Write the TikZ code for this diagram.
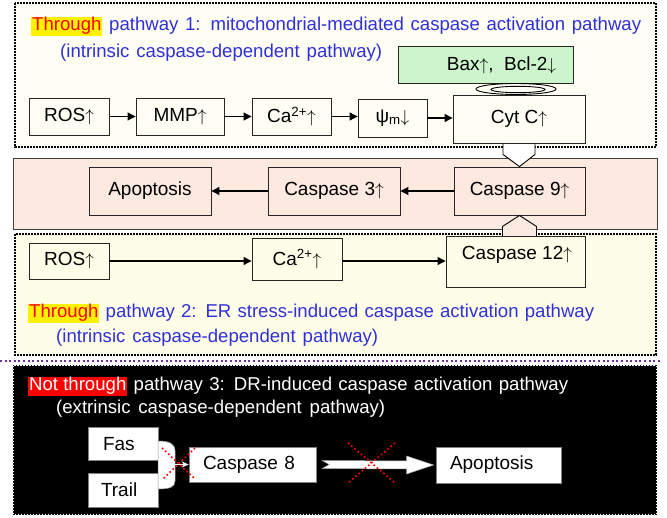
\documentclass[tikz,border=0pt]{standalone}
\usepackage{fontspec}
\setmainfont{Liberation Sans}
\usetikzlibrary{arrows.meta,calc}
\definecolor{ttlblue}{RGB}{48,48,215}
\definecolor{creamA}{RGB}{254,254,244}
\definecolor{creamB}{RGB}{254,254,232}
\definecolor{pinkbg}{RGB}{252,233,224}
\definecolor{greenbg}{RGB}{204,245,204}
\definecolor{purpdot}{RGB}{112,48,160}
\newcommand\hlY[1]{{\setlength{\fboxsep}{1pt}\colorbox{yellow}{\textcolor{red}{#1}}}}
\newcommand\hlR[1]{{\setlength{\fboxsep}{1pt}\colorbox{red}{\textcolor{white}{#1}}}}
\pgfdeclarelayer{bg}
\pgfdeclarelayer{mid}
\pgfsetlayers{bg,mid,main}
\begin{document}
\begin{tikzpicture}[x=1pt,y=-1pt,
  font=\fontsize{19}{22}\selectfont,
  bx/.style={draw=black!85, line width=0.9pt, inner sep=0pt, align=center},
  wbx/.style={fill=white, draw=black!50, line width=0.6pt, inner sep=0pt, text=black, align=left},
  arr/.style={line width=1.1pt, -{Triangle[length=8pt,width=8pt]}},
  dotbox/.style={line width=1.8pt, dash pattern=on 1.6pt off 1.4pt},
  redx/.style={red, line width=1.6pt, dash pattern=on 1.6pt off 2.6pt},
  ttl/.style={anchor=base west, inner sep=0pt, text=ttlblue, font=\fontsize{18.6}{22}\selectfont},
]
\useasboundingbox (0,0) rectangle (667,518);

% ---------- backgrounds ----------
\begin{pgfonlayer}{bg}
  \draw[dotbox, fill=creamA] (15,3) rectangle (656,147);
  \fill[pinkbg] (13,158) rectangle (657,229);
  \draw[draw=black!75, line width=0.9pt] (13,158) rectangle (657,229);
  \draw[dotbox, fill=creamB] (15,234) rectangle (656,355);
  \draw[purpdot, line width=2.4pt, dash pattern=on 2pt off 2.6pt] (0,361) -- (660,361);
  \fill[black] (13,365) rectangle (657,515);
  \draw[white, line width=1.2pt, dash pattern=on 1.4pt off 1.6pt] (13.6,365.6) rectangle (656.4,514.4);
\end{pgfonlayer}

% ---------- pathway 1 ----------
\node[ttl] (t1a) at (31,31) {\makebox[610pt][s]{\hlY{Through} pathway 1: mitochondrial-mediated caspase activation pathway}};
\node[ttl] (t1b) at (60,58) {\makebox[322pt][s]{(intrinsic caspase-dependent pathway)}};

\node[bx, fill=greenbg, minimum width=175pt, minimum height=37pt] (bax) at (485.5,65) {\hspace*{32pt}Bax\(\uparrow\),\ \ Bcl-2\(\downarrow\)};

\node[bx, minimum width=80pt, minimum height=37pt] (ros1) at (69,116.5) {ROS\(\uparrow\)};
\node[bx, minimum width=88pt, minimum height=37pt] (mmp) at (180,116.5) {MMP\(\uparrow\)};
\node[bx, minimum width=79pt, minimum height=37pt] (ca1) at (291.5,116.5) {Ca\textsuperscript{2+}\(\uparrow\)};
\node[bx, minimum width=69pt, minimum height=38pt] (psi) at (392.5,118) {ψ\textsubscript{m}\(\downarrow\)};
\node[bx, fill=creamA, minimum width=132pt, minimum height=48pt] (cyt) at (519,119) {Cyt C\(\uparrow\)};

\draw[arr] (ros1.east) -- (ros1.east -| mmp.west);
\draw[arr] (mmp.east) -- (mmp.east -| ca1.west);
\draw[arr] (ca1.east) -- (ca1.east -| psi.west);
\draw[arr] (psi.east) -- (psi.east -| cyt.west);

\draw[line width=0.9pt] (516,89) ellipse [x radius=40, y radius=5.5];
\draw[line width=0.9pt] (518,89.5) ellipse [x radius=27, y radius=3.2];

% ---------- common pathway ----------
\node[bx, minimum width=122pt, minimum height=48pt] (apo1) at (150,191) {Apoptosis};
\node[bx, minimum width=132pt, minimum height=48pt] (c3) at (334,191) {Caspase 3\(\uparrow\)};
\node[bx, minimum width=131pt, minimum height=48pt] (c9) at (519.5,191) {Caspase 9\(\uparrow\)};
\draw[arr] (c9.west) -- (c3.east);
\draw[arr] (c3.west) -- (apo1.east);

% connector Cyt C -> Caspase 9
\begin{pgfonlayer}{mid}
  \fill[white] ($(cyt.south)+(-16,0)$) -- ++(0,11) -- (c9.north) -- ($(cyt.south)+(16,11)$) -- ($(cyt.south)+(16,0)$) -- cycle;
\end{pgfonlayer}
\draw[line width=0.9pt] ($(cyt.south)+(-16,0)$) -- ++(0,11) -- (c9.north) -- ($(cyt.south)+(16,11)$) -- ($(cyt.south)+(16,0)$);

% ---------- pathway 2 ----------
\node[bx, minimum width=80pt, minimum height=36pt] (ros2) at (69,261) {ROS\(\uparrow\)};
\node[bx, minimum width=90pt, minimum height=42pt] (ca2) at (297,259) {Ca\textsuperscript{2+}\(\uparrow\)};
\node[bx, fill=creamB, minimum width=139pt, minimum height=51pt] (c12) at (515.5,261.5) {};
\node[inner sep=0pt] (c12t) at (517,255) {Caspase 12\(\uparrow\)};
\draw[arr] (ros2.east) -- (ros2.east -| ca2.west);
\draw[arr] (ca2.east |- ros2.east) -- (c12.west |- ros2.east);

% connector Caspase 12 -> Caspase 9
\begin{pgfonlayer}{mid}
  \fill[pinkbg] (c9.south) -- ($(c9.south)+(-17,11)$) -- ($(c9.south)+(-17,21)$) -- ($(c9.south)+(17,21)$) -- ($(c9.south)+(17,11)$) -- cycle;
\end{pgfonlayer}
\draw[line width=0.9pt] ($(c9.south)+(-17,21)$) -- ($(c9.south)+(-17,11)$) -- (c9.south) -- ($(c9.south)+(17,11)$) -- ($(c9.south)+(17,21)$);

\node[ttl] (t2a) at (28,318) {\makebox[566pt][s]{\hlY{Through} pathway 2: ER stress-induced caspase activation pathway}};
\node[ttl] (t2b) at (56,343) {\makebox[322pt][s]{(intrinsic caspase-dependent pathway)}};

% ---------- pathway 3 ----------
\node[ttl, text=white] (t3a) at (28,391) {\makebox[540pt][s]{\hlR{Not through} pathway 3: DR-induced caspase activation pathway}};
\node[ttl, text=white] (t3b) at (56,414) {\makebox[329pt][s]{(extrinsic caspase-dependent pathway)}};

\node[wbx, minimum width=70pt, minimum height=33pt, text width=40pt] (fas) at (123,444) {Fas};
\node[wbx, minimum width=70pt, minimum height=34pt, text width=44pt] (trail) at (123,490) {Trail};
\draw[draw=black!40, fill=white, line width=0.5pt] (158,441) .. controls (170,441) and (175,444) .. (175,451) -- (175,481) .. controls (175,487) and (170,489) .. (158,489) -- cycle;
\node[wbx, minimum width=127pt, minimum height=35pt, text width=99pt] (c8) at (252.5,464.5) {Caspase 8};
\node[wbx, minimum width=125pt, minimum height=36pt, text width=97pt] (apo2) at (498.5,465) {Apoptosis};

\draw[white, line width=1.5pt, -{Stealth[length=7pt,width=6pt]}] (175,464.5) -- (c8.west);

\draw[draw=black!35, fill=white, line width=0.5pt]
  ($(c8.east)+(6,-4)$) -- ($(apo2.west)+(-29,-4)$) -- ($(apo2.west)+(-29,-9)$) -- ($(apo2.west)+(-2,0)$)
  -- ($(apo2.west)+(-29,9)$) -- ($(apo2.west)+(-29,4)$) -- ($(c8.east)+(6,4)$) -- ($(c8.east)+(13,0)$) -- cycle;

\draw[redx] (162,448) -- (195,479);
\draw[redx] (195,448) -- (163,479);
\draw[redx] (348,443) -- (395,483);
\draw[redx] (395,443) -- (348,483);
\end{tikzpicture}
\end{document}
